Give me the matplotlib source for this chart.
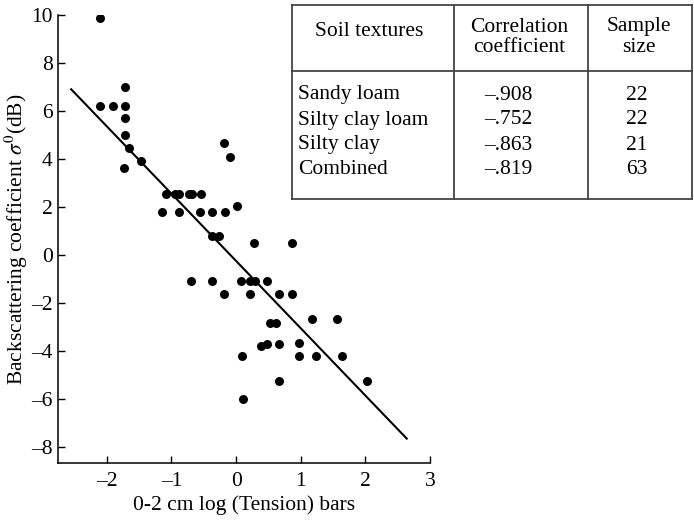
import matplotlib
matplotlib.use('Agg')
import matplotlib.pyplot as plt
from matplotlib.lines import Line2D

plt.rcParams['font.family'] = ['Liberation Serif', 'DejaVu Serif']
plt.rcParams['mathtext.fontset'] = 'stix'

# scatter values
tension = [-2.11, -1.72, -2.11, -1.91, -1.72, -1.72, -1.72, -1.65, -1.47, -1.74,
           -1.08, -0.94, -0.89, -0.73, -0.68, -0.55,
           -1.15, -0.88, -0.56, -0.37, -0.17, 0.02,
           -0.37, -0.27, 0.28, 0.86, -0.19, -0.10,
           -0.69, -0.38, 0.08, 0.21, 0.30, 0.48,
           -0.18, 0.21, 0.67, 0.87,
           1.18, 1.56, 0.52, 0.61,
           0.39, 0.48, 0.67, 0.98,
           0.09, 0.98, 1.24, 1.64,
           0.67, 2.03, 0.10]
sigma0 = [9.85, 7.0, 6.2, 6.2, 6.2, 5.68, 4.99, 4.43, 3.9, 3.6,
          2.53, 2.53, 2.53, 2.53, 2.53, 2.53,
          1.79, 1.79, 1.79, 1.79, 1.79, 2.03,
          0.78, 0.78, 0.47, 0.47, 4.64, 4.08,
          -1.08, -1.08, -1.08, -1.08, -1.08, -1.08,
          -1.63, -1.63, -1.63, -1.63,
          -2.67, -2.67, -2.86, -2.86,
          -3.79, -3.72, -3.72, -3.70,
          -4.22, -4.22, -4.22, -4.22,
          -5.28, -5.26, -6.0]

fit_x = [-2.55, 2.64]
fit_y = [6.89, -7.67]

xticks = [-2, -1, 0, 1, 2, 3]
yticks = [-8, -6, -4, -2, 0, 2, 4, 6, 8, 10]

textures = ['Sandy loam', 'Silty clay loam', 'Silty clay', 'Combined']
corr = ['\u2013.908', '\u2013.752', '\u2013.863', '\u2013.819']
sizes = ['22', '22', '21', '63']

W, H = 694, 521
fs = 15.5
fig = plt.figure(figsize=(W / 100, H / 100), dpi=100)
ax = fig.add_axes([58.3 / W, 1 - 463.3 / H, (430 - 58.3) / W, (463.3 - 14.7) / H])

ax.scatter(tension, sigma0, s=42, color='black', zorder=3, linewidths=0)
ax.plot(fit_x, fit_y, color='black', lw=1.5)

ax.set_xlim(-2.75, 3)
ax.set_ylim(-8.7, 10)
ax.set_xticks(xticks)
ax.set_yticks(yticks)
# the original prints negatives with an en dash
ax.set_xticklabels([str(v).replace('-', '\u2013') for v in xticks])
ax.set_yticklabels([str(v).replace('-', '\u2013') for v in yticks])
ax.tick_params(direction='in', length=5, width=1, labelsize=fs)
ax.tick_params(axis='x', pad=6)
ax.tick_params(axis='y', pad=4)
for s in ['top', 'right']:
    ax.spines[s].set_visible(False)
for s in ['left', 'bottom']:
    ax.spines[s].set_linewidth(1.1)

ax.set_xlabel('0-2 cm log (Tension) bars', fontsize=fs, labelpad=3)
ax.set_ylabel(r'Backscattering coefficient $\sigma^0$(dB)', fontsize=fs, labelpad=1)

# table drawn in pixel coordinates of the figure
def fx(px):
    return px / W

def fy(py):
    return 1 - py / H

left, right, top, bottom = 291.5, 692, 5, 199
col1, col2 = 453.5, 588
sep = 71
lc = '#444444'
for xs, ys in [([left, right], [top, top]), ([left, right], [bottom, bottom]),
               ([left, left], [top, bottom]), ([right, right], [top, bottom]),
               ([col1, col1], [top, bottom]), ([col2, col2], [top, bottom]),
               ([left, right], [sep, sep])]:
    fig.add_artist(Line2D([fx(x) for x in xs], [fy(y) for y in ys], color=lc, lw=1.3))

fig.text(fx(369), fy(32), 'Soil textures', ha='center', va='center', fontsize=fs)
fig.text(fx(519), fy(27), 'Correlation', ha='center', va='center', fontsize=fs)
fig.text(fx(519), fy(48), 'coefficient', ha='center', va='center', fontsize=fs)
fig.text(fx(639), fy(27), 'Sample', ha='center', va='center', fontsize=fs)
fig.text(fx(639), fy(48), 'size', ha='center', va='center', fontsize=fs)

row_y = [95, 120, 145, 169]
for t, c, n, y in zip(textures, corr, sizes, row_y):
    fig.text(fx(298), fy(y), t, ha='left', va='center', fontsize=fs)
    fig.text(fx(508), fy(y), c, ha='center', va='center', fontsize=fs)
    fig.text(fx(637), fy(y), n, ha='center', va='center', fontsize=fs)

fig.savefig('out.png', dpi=100)
